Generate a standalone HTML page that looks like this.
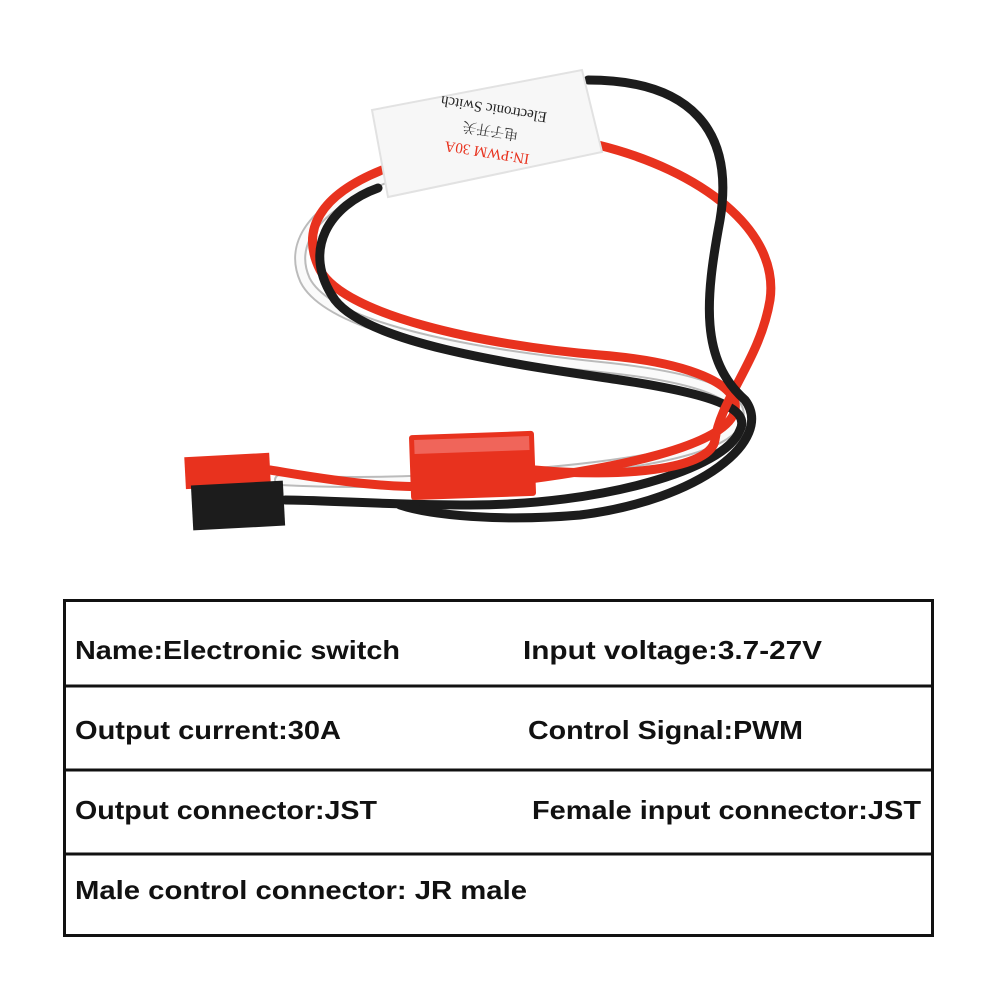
<!DOCTYPE html>
<html><head><meta charset="utf-8"><style>
html,body{margin:0;padding:0;background:#fff;}
svg{display:block}
</style></head><body>
<svg width="1000" height="1000" viewBox="0 0 1000 1000" xmlns="http://www.w3.org/2000/svg">
<rect width="1000" height="1000" fill="#fff"/>
<g fill="none" stroke-linecap="round">
<path d="M385,178 C330,200 285,235 305,280 C330,330 480,355 610,368 C700,378 745,395 738,420 C725,455 600,470 470,478 C380,484 320,482 280,480" stroke="#bbb" stroke-width="12"/>
<path d="M385,178 C330,200 285,235 305,280 C330,330 480,355 610,368 C700,378 745,395 738,420 C725,455 600,470 470,478 C380,484 320,482 280,480" stroke="#fafafa" stroke-width="8"/>
<path d="M382,170 C320,195 300,230 320,270 C345,315 480,345 600,355 C690,362 740,385 735,410 C728,445 620,470 480,485 C390,492 320,478 270,470" stroke="#e8321e" stroke-width="9"/>
<path d="M378,188 C330,205 300,250 335,300 C370,345 520,365 620,380 C720,395 750,410 740,430 C725,470 600,505 470,505 C390,505 320,500 285,500" stroke="#1c1c1c" stroke-width="9"/>
<path d="M598,145 C700,170 780,230 770,300 C760,360 720,400 715,440 C710,470 620,478 535,470" stroke="#e8321e" stroke-width="9"/>
<path d="M588,80 C690,80 735,130 720,220 C705,300 700,360 745,400 C775,440 700,500 580,515 C500,522 430,515 400,505" stroke="#1c1c1c" stroke-width="9"/>
</g>
<polygon points="372,110 582,70 602,152 388,197" fill="#f7f7f7" stroke="#e2e2e2" stroke-width="2"/>
<g transform="rotate(189 490 133)" font-family="Liberation Serif, 'Noto Serif CJK SC', serif">
<text x="490" y="118" font-size="15" fill="#e8321e" text-anchor="middle">IN:PWM   30A</text>
<text x="490" y="140" font-size="14" fill="#333" text-anchor="middle">电子开关</text>
<text x="490" y="162" font-size="15" fill="#222" text-anchor="middle">Electronic Switch</text>
</g>
<rect x="185" y="455" width="85" height="32" fill="#e8321e" transform="rotate(-3 227 470)"/>
<rect x="192" y="483" width="92" height="45" fill="#1c1c1c" transform="rotate(-3 238 505)"/>
<rect x="410" y="433" width="125" height="65" fill="#e8321e" rx="3" transform="rotate(-2 472 465)"/>
<rect x="415" y="438" width="115" height="14" fill="#f0655a" transform="rotate(-2 472 465)"/>
<g stroke="#111" stroke-width="3" fill="none">
<rect x="64.5" y="600.5" width="868" height="335"/>
<line x1="64" y1="686" x2="933" y2="686"/>
<line x1="64" y1="770" x2="933" y2="770"/>
<line x1="64" y1="854" x2="933" y2="854"/>
</g>
<g font-family="Liberation Sans, sans-serif" font-weight="bold" font-size="26" fill="#111">
<text x="75" y="659" textLength="325" lengthAdjust="spacingAndGlyphs">Name:Electronic switch</text>
<text x="523" y="659" textLength="299" lengthAdjust="spacingAndGlyphs">Input voltage:3.7-27V</text>
<text x="75" y="739" textLength="266" lengthAdjust="spacingAndGlyphs">Output current:30A</text>
<text x="528" y="739" textLength="275" lengthAdjust="spacingAndGlyphs">Control Signal:PWM</text>
<text x="75" y="819" textLength="302" lengthAdjust="spacingAndGlyphs">Output connector:JST</text>
<text x="532" y="819" textLength="389" lengthAdjust="spacingAndGlyphs">Female input connector:JST</text>
<text x="75" y="899" textLength="452" lengthAdjust="spacingAndGlyphs">Male control connector: JR male</text>
</g>
</svg>
</body></html>
